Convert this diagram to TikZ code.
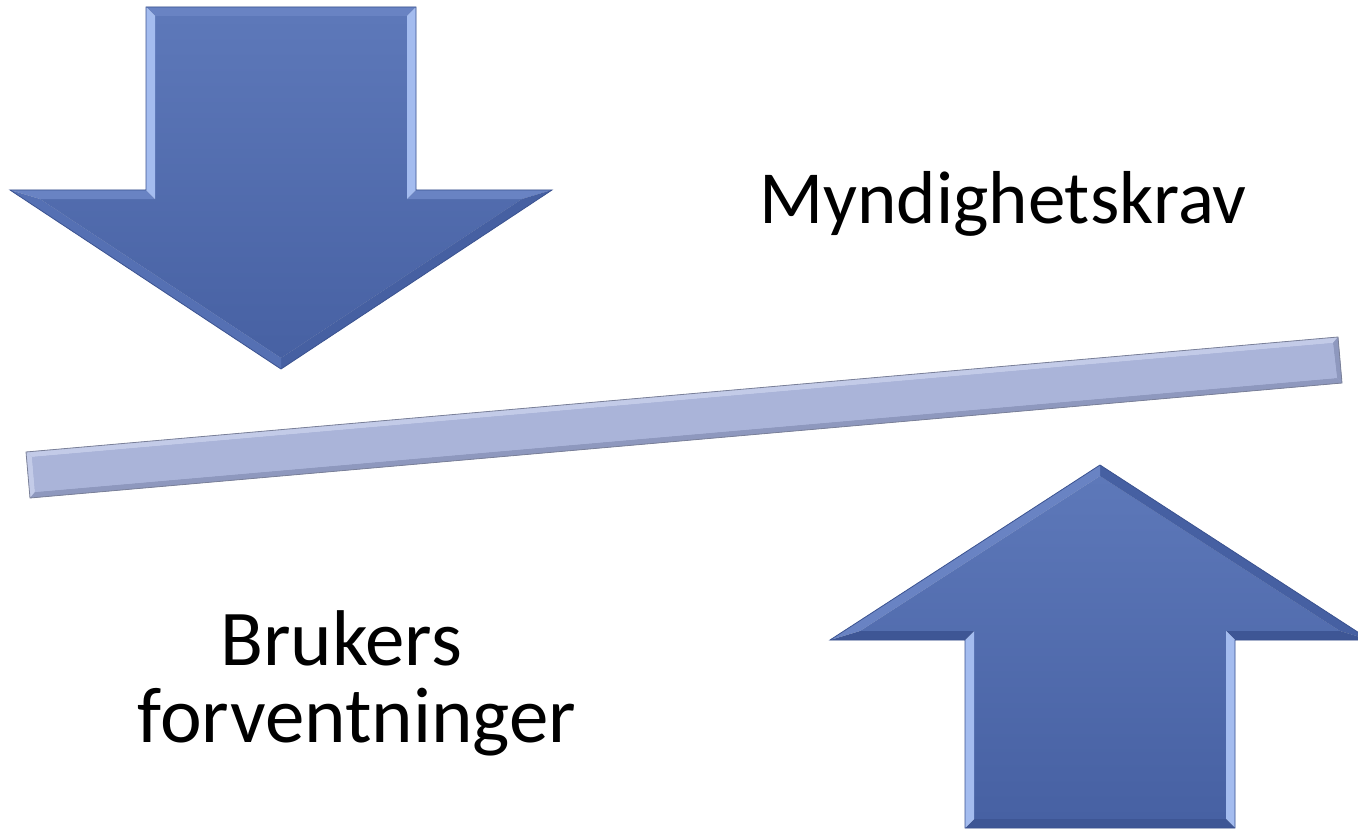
\documentclass[tikz,border=0pt]{standalone}
\usepackage{fontspec}
\setmainfont{Carlito}
\definecolor{bodytop}{HTML}{5D78B9}
\definecolor{bodybot}{HTML}{4761A3}
\definecolor{hilite}{HTML}{A4BCEF}
\definecolor{facetlight}{HTML}{6983C3}
\definecolor{facetmid}{HTML}{5570B3}
\definecolor{facetdark}{HTML}{4660A2}
\definecolor{facetdeep}{HTML}{3E5695}
\definecolor{edgeblue}{HTML}{3B5391}
\definecolor{barfill}{HTML}{AAB4D9}
\definecolor{barlight}{HTML}{C3CBE8}
\definecolor{bardark}{HTML}{8E98BE}
\definecolor{baredge}{HTML}{7A8098}
\tikzset{
  facet/.style={fill=#1},
  arrowedge/.style={draw=edgeblue,line width=0.8pt,line join=miter},
  shadowfill/.style={fill=black,opacity=0.22},
  label/.style={text=black,inner sep=0pt}
}
\begin{document}
\begin{tikzpicture}[x=1pt,y=-1pt]
\useasboundingbox (0,0) rectangle (1358,832);
\clip (0,0) rectangle (1358,832);

% ---------- down arrow ----------
\coordinate (dA) at (146,7);   \coordinate (dB) at (416,7);
\coordinate (dC) at (416,190); \coordinate (dD) at (552,190);
\coordinate (dE) at (281,369); \coordinate (dF) at (10,190);
\coordinate (dG) at (146,190);
\coordinate (da) at (155,16);  \coordinate (db) at (407,16);
\coordinate (dc) at (407,199); \coordinate (dd) at (522,199);
\coordinate (de) at (281,358); \coordinate (df) at (40,199);
\coordinate (dg) at (155,199);
\fill[shadowfill,shift={(3,4)}] (dA)--(dB)--(dC)--(dD)--(dE)--(dF)--(dG)--cycle;
\shade[top color=bodytop,bottom color=bodybot] (da)--(db)--(dc)--(dd)--(de)--(df)--(dg)--cycle;
\fill[facet=facetlight] (dA)--(dB)--(db)--(da)--cycle;
\fill[facet=hilite]     (dB)--(dC)--(dc)--(db)--cycle;
\fill[facet=facetlight] (dC)--(dD)--(dd)--(dc)--cycle;
\fill[facet=facetdark]  (dD)--(dE)--(de)--(dd)--cycle;
\fill[facet=facetmid]   (dE)--(dF)--(df)--(de)--cycle;
\fill[facet=facetlight] (dF)--(dG)--(dg)--(df)--cycle;
\fill[facet=hilite]     (dG)--(dA)--(da)--(dg)--cycle;
\draw[arrowedge] (dA)--(dB)--(dC)--(dD)--(dE)--(dF)--(dG)--cycle;

% ---------- up arrow ----------
\coordinate (uT) at (1100,465);  \coordinate (uR) at (1370,640);
\coordinate (uSR) at (1235,640); \coordinate (uBR) at (1235,828);
\coordinate (uBL) at (965,828);  \coordinate (uSL) at (965,640);
\coordinate (uL) at (830,640);
\coordinate (ut) at (1100,476);  \coordinate (ur) at (1340,631);
\coordinate (usr) at (1226,631); \coordinate (ubr) at (1226,819);
\coordinate (ubl) at (974,819);  \coordinate (usl) at (974,631);
\coordinate (ul) at (860,631);
\fill[shadowfill,shift={(3,4)}] (uT)--(uR)--(uSR)--(uBR)--(uBL)--(uSL)--(uL)--cycle;
\shade[top color=bodytop,bottom color=bodybot] (ut)--(ur)--(usr)--(ubr)--(ubl)--(usl)--(ul)--cycle;
\fill[facet=facetdark]  (uT)--(uR)--(ur)--(ut)--cycle;
\fill[facet=facetdeep]  (uR)--(uSR)--(usr)--(ur)--cycle;
\fill[facet=hilite]     (uSR)--(uBR)--(ubr)--(usr)--cycle;
\fill[facet=facetdeep]  (uBR)--(uBL)--(ubl)--(ubr)--cycle;
\fill[facet=hilite]     (uBL)--(uSL)--(usl)--(ubl)--cycle;
\fill[facet=facetdeep]  (uSL)--(uL)--(ul)--(usl)--cycle;
\fill[facet=facetlight] (uL)--(uT)--(ut)--(ul)--cycle;
\draw[arrowedge] (uT)--(uR)--(uSR)--(uBR)--(uBL)--(uSL)--(uL)--cycle;

% ---------- bar ----------
\coordinate (b1) at (26,452);   \coordinate (b2) at (1338,337);
\coordinate (b3) at (1342,383); \coordinate (b4) at (30,498);
\coordinate (i1) at (32,457);   \coordinate (i2) at (1333,343);
\coordinate (i3) at (1337,378); \coordinate (i4) at (35,492);
\fill[shadowfill,shift={(2,4)}] (b1)--(b2)--(b3)--(b4)--cycle;
\fill[barfill] (b1)--(b2)--(b3)--(b4)--cycle;
\fill[barlight] (b1)--(b2)--(i2)--(i1)--cycle;
\fill[barlight] (b4)--(b1)--(i1)--(i4)--cycle;
\fill[bardark]  (b2)--(b3)--(i3)--(i2)--cycle;
\fill[bardark]  (b3)--(b4)--(i4)--(i3)--cycle;
\fill[barfill] (i1)--(i2)--(i3)--(i4)--cycle;
\draw[baredge,line width=0.8pt] (b1)--(b2)--(b3)--(b4)--cycle;

% ---------- labels ----------
\node[label,anchor=base,font=\fontsize{75}{78}\selectfont] (myn) at (1003,223) {Myndighetskrav};
\node[label,anchor=base,align=center,font=\fontsize{79}{77}\selectfont] (bruk) at (357,742) {\hbox{Brukers\kern32pt}\\forventninger};
\end{tikzpicture}
\end{document}
